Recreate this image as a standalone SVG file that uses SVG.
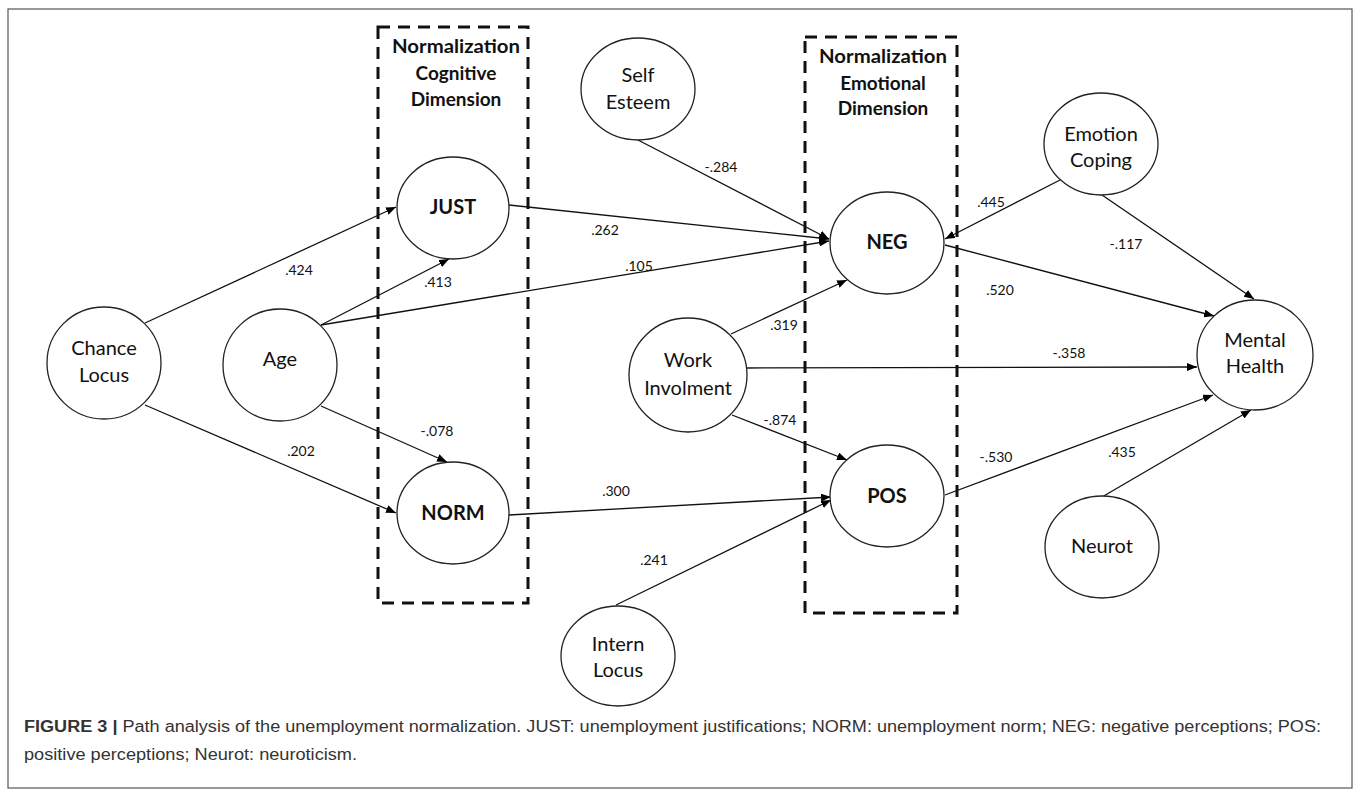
<svg xmlns="http://www.w3.org/2000/svg" width="1358" height="798" viewBox="0 0 1358 798">
<defs>
<marker id="ah" markerWidth="10" markerHeight="8" refX="10" refY="4" orient="auto" markerUnits="userSpaceOnUse">
<path d="M0,0 L10,4 L0,8 z" fill="#000"/>
</marker>
<style>
.node ellipse{fill:#fff;stroke:#222;stroke-width:1.3}
.nt{font-family:Lato,"Open Sans",sans-serif;font-size:20px;fill:#111;text-anchor:middle}
.nb{font-weight:bold;font-size:20px}
.el{font-family:Lato,"Open Sans",sans-serif;font-size:14px;fill:#111;text-anchor:middle}
.edge{stroke:#111;stroke-width:1.3;fill:none;marker-end:url(#ah)}
.box{fill:none;stroke:#111;stroke-width:3;stroke-dasharray:12,8}
.bt{font-family:Lato,"Open Sans",sans-serif;font-size:19px;font-weight:bold;fill:#111;text-anchor:middle}
.cap{font-family:"Liberation Sans",Arial,sans-serif;font-size:16px;fill:#333}
</style>
</defs>
<rect x="0" y="0" width="1358" height="798" fill="#fff"/>
<rect x="8" y="9" width="1344" height="779" fill="none" stroke="#555" stroke-width="1.2"/>

<g id="box-cognitive">
<rect class="box" x="378" y="27" width="150" height="576"/>
<text class="bt" x="456" y="53" textLength="128" lengthAdjust="spacingAndGlyphs">Normalization</text>
<text class="bt" x="456" y="80">Cognitive</text>
<text class="bt" x="456" y="106">Dimension</text>
</g>
<g id="box-emotional">
<rect class="box" x="805" y="37" width="152" height="576"/>
<text class="bt" x="883" y="63" textLength="128" lengthAdjust="spacingAndGlyphs">Normalization</text>
<text class="bt" x="883" y="90">Emotional</text>
<text class="bt" x="883" y="115">Dimension</text>
</g>

<g id="connectors">
<line class="edge" x1="145" y1="323" x2="396" y2="207"/>
<line class="edge" x1="145" y1="405" x2="396" y2="513"/>
<line class="edge" x1="321" y1="325" x2="449" y2="259"/>
<line class="edge" x1="321" y1="325" x2="829" y2="241"/>
<line class="edge" x1="321" y1="406" x2="447" y2="462"/>
<line class="edge" x1="509" y1="205" x2="829" y2="239"/>
<line class="edge" x1="638" y1="140" x2="829" y2="239"/>
<line class="edge" x1="731" y1="334" x2="847" y2="280"/>
<line class="edge" x1="747" y1="368" x2="1197" y2="367"/>
<line class="edge" x1="732" y1="415" x2="847" y2="460"/>
<line class="edge" x1="509" y1="515" x2="831" y2="497"/>
<line class="edge" x1="616" y1="605" x2="831" y2="500"/>
<line class="edge" x1="1060" y1="180" x2="945" y2="239"/>
<line class="edge" x1="1102" y1="195" x2="1254" y2="299"/>
<line class="edge" x1="945" y1="245" x2="1214" y2="316"/>
<line class="edge" x1="945" y1="495" x2="1213" y2="395"/>
<line class="edge" x1="1102" y1="497" x2="1251" y2="410"/>
</g>

<g id="edge-labels">
<text class="el" x="299" y="275">.424</text>
<text class="el" x="438" y="287">.413</text>
<text class="el" x="605" y="235">.262</text>
<text class="el" x="639" y="271">.105</text>
<text class="el" x="721" y="172">-.284</text>
<text class="el" x="991" y="207">.445</text>
<text class="el" x="1126" y="249">-.117</text>
<text class="el" x="1000" y="295">.520</text>
<text class="el" x="784" y="330">.319</text>
<text class="el" x="1069" y="358">-.358</text>
<text class="el" x="780" y="425">-.874</text>
<text class="el" x="437" y="436">-.078</text>
<text class="el" x="301" y="456">.202</text>
<text class="el" x="616" y="496">.300</text>
<text class="el" x="996" y="462">-.530</text>
<text class="el" x="1122" y="457">.435</text>
<text class="el" x="654" y="565">.241</text>
</g>

<g id="node-chance" class="node"><ellipse cx="104" cy="363" rx="57" ry="56"/><text class="nt" x="104" y="355">Chance</text><text class="nt" x="104" y="382">Locus</text></g>
<g id="node-age" class="node"><ellipse cx="280" cy="365" rx="57" ry="56"/><text class="nt" x="280" y="366">Age</text></g>
<g id="node-just" class="node"><ellipse cx="453" cy="208" rx="56" ry="51"/><text class="nt nb" x="453" y="214">JUST</text></g>
<g id="node-norm" class="node"><ellipse cx="453" cy="513" rx="56" ry="51"/><text class="nt nb" x="453" y="520">NORM</text></g>
<g id="node-self" class="node"><ellipse cx="638" cy="89" rx="57" ry="51"/><text class="nt" x="638" y="82">Self</text><text class="nt" x="638" y="109">Esteem</text></g>
<g id="node-work" class="node"><ellipse cx="688" cy="375" rx="59" ry="57"/><text class="nt" x="688" y="367">Work</text><text class="nt" x="688" y="395">Involment</text></g>
<g id="node-intern" class="node"><ellipse cx="618" cy="656" rx="57" ry="50"/><text class="nt" x="618" y="651">Intern</text><text class="nt" x="618" y="677">Locus</text></g>
<g id="node-neg" class="node"><ellipse cx="887" cy="243" rx="57" ry="51"/><text class="nt nb" x="887" y="249">NEG</text></g>
<g id="node-pos" class="node"><ellipse cx="887" cy="496" rx="57" ry="51"/><text class="nt nb" x="887" y="503">POS</text></g>
<g id="node-emotion" class="node"><ellipse cx="1101" cy="144" rx="57" ry="51"/><text class="nt" x="1101" y="141">Emotion</text><text class="nt" x="1101" y="167">Coping</text></g>
<g id="node-mental" class="node"><ellipse cx="1255" cy="355" rx="58" ry="55"/><text class="nt" x="1255" y="347">Mental</text><text class="nt" x="1255" y="373">Health</text></g>
<g id="node-neurot" class="node"><ellipse cx="1102" cy="547" rx="57" ry="51"/><text class="nt" x="1102" y="553">Neurot</text></g>

<g id="caption">
<text class="cap" x="24" y="732" textLength="1297" lengthAdjust="spacingAndGlyphs"><tspan font-weight="bold">FIGURE 3 |</tspan> Path analysis of the unemployment normalization. JUST: unemployment justifications; NORM: unemployment norm; NEG: negative perceptions; POS:</text>
<text class="cap" x="24" y="760" textLength="333" lengthAdjust="spacingAndGlyphs">positive perceptions; Neurot: neuroticism.</text>
</g>
</svg>
